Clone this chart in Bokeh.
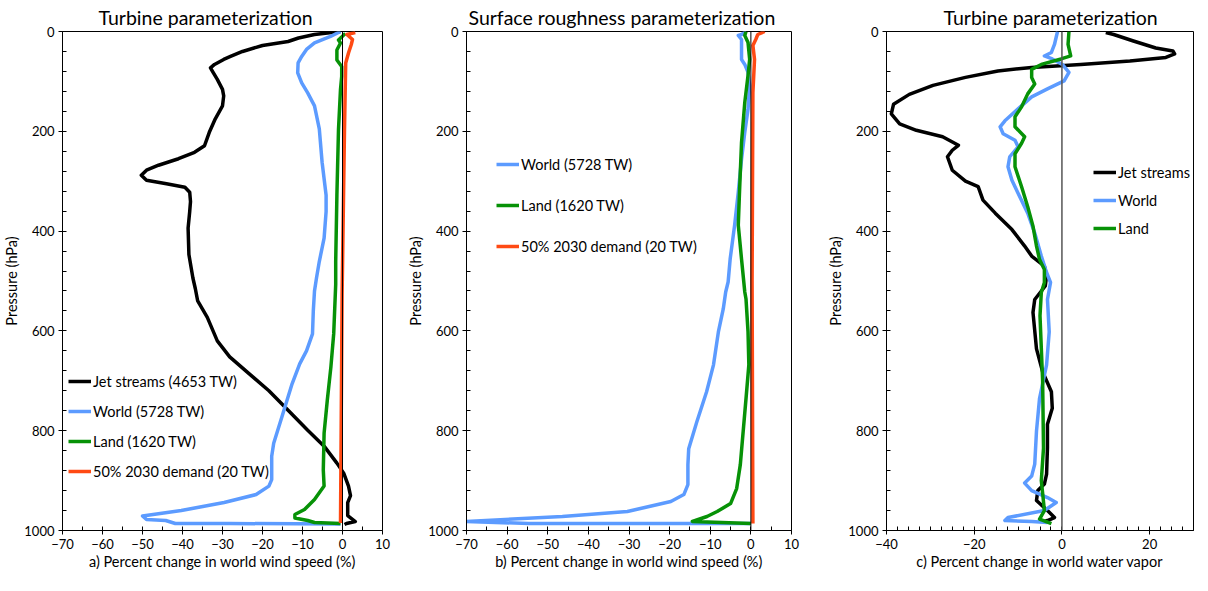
from bokeh.plotting import figure
from bokeh.layouts import row
from bokeh.models import Range1d, SingleIntervalTicker, Span, Legend, LegendItem
from bokeh.embed import file_html
from bokeh.resources import INLINE

FONT = "Lato"
BLACK = "#000000"
BLUE = "#5C9BFF"
GREEN = "#079207"
RED = "#FF4A14"

# ---------------- Panel a: turbine parameterization, wind speed ----------------
A_JET_P = [0, 6, 13, 20, 28, 40, 50, 56, 66, 73, 80, 96, 116, 129, 149, 175, 202, 229, 242, 255, 268, 278,
           288, 298, 305, 312, 322, 341, 361, 394, 447, 494, 515, 540, 573, 620, 652, 686, 720, 759, 799, 831,
           865, 885, 911, 930, 944, 970, 982, 986, 988]
A_JET_V = [-0.5, -7, -11, -13.6, -20, -25, -28, -29.7, -32, -33, -32.5, -31.3, -30, -29.7, -30, -31.8, -33.3,
           -34.5, -37, -41, -46, -49, -50.3, -49, -44, -39.4, -38.2, -38, -38.2, -38.6, -38.4, -37.4, -36.8,
           -36.2, -33.8, -31.3, -28.2, -23.3, -18.4, -13.6, -8.7, -4.6, -1.4, 0.3, 1.5, 2, 1.3, 1.3, 3.2, 1, 0.5]
A_WORLD_P = [0, 10, 23, 36, 50, 63, 83, 103, 123, 149, 195, 262, 328, 361, 414, 461, 494, 520, 560, 606, 640,
             666, 706, 771, 825, 851, 898, 911, 928, 944, 960, 971, 978, 980, 986, 986, 987]
A_WORLD_V = [-0.5, -3, -7, -9, -10.2, -11.1, -11.2, -10.2, -8.7, -7, -5.8, -5.1, -4.1, -4.1, -4.6, -5.8, -6.5,
             -7, -7.3, -7.5, -9, -10.7, -12.6, -15.1, -17.2, -17.7, -17.7, -18.4, -21.6, -29.6, -40.3, -50, -49,
             -44.2, -41.8, -28.2, -0.5]
A_LAND_P = [4, 17, 23, 37, 57, 70, 90, 116, 196, 328, 461, 507, 606, 672, 739, 805, 879, 911, 938, 958, 968,
            975, 980, 984, 986]
A_LAND_V = [0.7, -1, -0.5, -1.4, -1.4, -0.2, -0.2, -0.5, -1, -1.4, -1.7, -1.7, -2.2, -2.9, -3.8, -4.6, -4.8,
            -4.6, -7, -9.5, -11.9, -11.9, -8.7, -7, -0.5]
A_DEM_P = [2, 6, 16, 26, 43, 63, 196, 527, 985]
A_DEM_V = [3.2, 1.1, 2.5, 2.2, 1.5, 0.8, 0.5, -0.1, -0.5]

# ---------------- Panel b: surface roughness parameterization ----------------
B_WORLD_P = [0, 6, 8, 16, 56, 66, 82, 108, 156, 202, 256, 322, 388, 456, 502, 522, 556, 602, 668, 722, 782,
             836, 868, 908, 928, 942, 962, 972, 982, 986, 986, 986]
B_WORLD_V = [-1.2, -2.3, -3.1, -2.3, -2.3, -1.5, -0.7, -0.3, -0.7, -1.5, -2.3, -3.1, -4, -5.1, -5.6, -6.2,
             -6.8, -8, -9.2, -10.9, -13.3, -15.3, -15.5, -15.5, -16.5, -19.7, -30.4, -46.4, -70, -54.7, -14.8, 0]
B_LAND_P = [0, 8, 22, 56, 88, 142, 222, 322, 388, 456, 522, 536, 602, 668, 736, 802, 868, 916, 946, 962,
            972, 982, 986]
B_LAND_V = [-1.2, -1.5, -0.7, -0.3, -0.7, -1.5, -2.3, -2.8, -3.1, -2.3, -1.5, -1.2, -0.7, -0.5, -1.2, -1.9,
            -2.6, -3.5, -5, -8.3, -10.8, -14.4, 0]
B_DEM_P = [0, 6, 16, 28, 56, 122, 500, 986]
B_DEM_V = [3.4, 1.7, 1.2, 0.5, 0.9, 0.5, 0.3, 0.5]

# ---------------- Panel c: turbine parameterization, water vapor ----------------
C_JET_P = [2, 6, 19, 33, 39, 45, 52, 59, 66, 72, 79, 92, 108, 126, 146, 165, 185, 198, 211, 228, 238, 251,
           278, 300, 311, 338, 364, 397, 430, 450, 470, 490, 510, 537, 563, 636, 682, 722, 755, 787, 834, 887,
           907, 920, 940, 960, 974, 980, 982]
C_JET_V = [10, 11.8, 16.3, 21.4, 25.3, 25.7, 23.7, 15.5, 4.3, -6.9, -14.6, -22, -29.4, -34.8, -38.4, -38.9,
           -37, -33.2, -27.2, -23.6, -25, -26.1, -25, -22, -19.1, -18, -15.2, -11.4, -8.5, -6.9, -4, -3.5, -3.8,
           -6.2, -6.6, -5.8, -4.4, -2.4, -2.2, -3.3, -3.3, -3.5, -4, -5.5, -5.8, -3.3, -1.7, -3.3, -4]
C_WORLD_P = [0, 26, 42, 49, 55, 66, 82, 99, 115, 131, 155, 179, 191, 205, 218, 231, 251, 271, 298, 324, 364,
             404, 450, 483, 503, 537, 602, 668, 735, 801, 867, 891, 905, 920, 934, 944, 960, 974, 980, 982, 984]
C_WORLD_V = [-1, -1.7, -2.4, -4, -2.2, 0.1, 1.6, 0.5, -3.3, -6.9, -10, -13, -14.1, -13.4, -10.7, -10, -11.9,
             -12.3, -11.4, -10, -7.8, -6.2, -4.7, -3.5, -2.6, -3.3, -2.9, -3.5, -5.1, -5.8, -6.2, -6.9, -8.5,
             -6.9, -3.3, -1.3, -4, -12.3, -13, -6.9, -3.3]
C_LAND_P = [0, 26, 49, 55, 66, 76, 92, 105, 125, 151, 171, 191, 211, 224, 245, 271, 311, 351, 390, 430, 457,
            477, 503, 523, 570, 700, 835, 900, 925, 960, 977, 986]
C_LAND_V = [1.6, 1.4, 2, -0.2, -4.7, -6.9, -6.9, -6.2, -7.8, -9.2, -10.7, -10.7, -8.5, -9.2, -10.7, -10.7,
            -9.2, -7.8, -6.6, -5.8, -5.1, -4, -4, -4.7, -5, -4.4, -4.2, -4.7, -4.4, -4, -5.1, -2.4]

TITLES = ["Turbine parameterization", "Surface roughness parameterization", "Turbine parameterization"]
XLABELS = ["a) Percent change in world wind speed (%)", "b) Percent change in world wind speed (%)",
           "c) Percent change in world water vapor"]
YLABEL = "Pressure (hPa)"
LABELS_A = ["Jet streams (4653 TW)", "World (5728 TW)", "Land (1620 TW)", "50% 2030 demand (20 TW)"]
LABELS_B = ["World (5728 TW)", "Land (1620 TW)", "50% 2030 demand (20 TW)"]
LABELS_C = ["Jet streams", "World", "Land"]


def make_panel(width, left, right, top, bottom, xr, xint, xminor, title, title_offset, xlabel, zero_color,
               zero_width):
    p = figure(width=width, height=top + 503 + bottom, output_backend="svg", toolbar_location=None,
               x_range=Range1d(*xr), y_range=Range1d(1000, 0),
               min_border_left=left, min_border_right=right, min_border_top=top, min_border_bottom=bottom)
    p.title.text = title
    p.title.text_font = FONT
    p.title.text_font_size = "19.5px"
    p.title.text_font_style = "normal"
    p.title.text_color = "black"
    p.title.align = "left"
    p.title.offset = title_offset
    p.title.standoff = 5
    p.xgrid.visible = False
    p.ygrid.visible = False
    p.outline_line_color = "black"
    p.outline_line_width = 1
    p.background_fill_color = "white"
    p.border_fill_color = "white"
    p.xaxis.ticker = SingleIntervalTicker(interval=xint, num_minor_ticks=xminor)
    p.yaxis.ticker = SingleIntervalTicker(interval=200, num_minor_ticks=5)
    for ax in (p.xaxis[0], p.yaxis[0]):
        ax.axis_line_color = "black"
        ax.major_tick_line_color = "black"
        ax.minor_tick_line_color = "black"
        ax.major_tick_in = 0
        ax.major_tick_out = 4
        ax.minor_tick_in = 4
        ax.minor_tick_out = 0
        ax.major_label_text_font = FONT
        ax.major_label_text_font_size = "13px"
        ax.major_label_text_color = "black"
        ax.major_label_standoff = 4
        ax.axis_label_text_font = FONT
        ax.axis_label_text_font_size = "14.5px"
        ax.axis_label_text_font_style = "normal"
        ax.axis_label_text_color = "black"
        ax.axis_label_standoff = 1
    p.xaxis.axis_label = xlabel
    p.yaxis.axis_label = YLABEL
    p.add_layout(Span(location=0, dimension="height", line_color=zero_color, line_width=zero_width))
    return p


def add_legend(p, renderers, labels, loc, spacing):
    leg = Legend(items=[LegendItem(label=l, renderers=[r]) for l, r in zip(labels, renderers)],
                 location=loc, glyph_width=23, glyph_height=20, label_height=20, spacing=spacing,
                 padding=0, margin=0, label_standoff=2, border_line_alpha=0, background_fill_alpha=0,
                 label_text_font=FONT, label_text_font_size="14.5px", label_text_color="black")
    p.add_layout(leg)


LW = 3.5

pa = make_panel(404, 53, 22, 27, 45, (-70, 10), 10, 2, TITLES[0], 36, XLABELS[0], "black", 1)
ra = [pa.line(A_JET_V, A_JET_P, line_color=BLACK, line_width=LW, line_join="round"),
      pa.line(A_WORLD_V, A_WORLD_P, line_color=BLUE, line_width=LW, line_join="round"),
      pa.line(A_LAND_V, A_LAND_P, line_color=GREEN, line_width=LW, line_join="round"),
      pa.line(A_DEM_V, A_DEM_P, line_color=RED, line_width=LW, line_join="round")]
add_legend(pa, ra, LABELS_A, (6, 49), 10)

pb = make_panel(420, 58, 33, 31, 41, (-70, 10), 10, 2, TITLES[1], 2, XLABELS[1], "black", 1)
rb = [pb.line(B_WORLD_V, B_WORLD_P, line_color=BLUE, line_width=LW, line_join="round"),
      pb.line(B_LAND_V, B_LAND_P, line_color=GREEN, line_width=LW, line_join="round"),
      pb.line(B_DEM_V, B_DEM_P, line_color=RED, line_width=LW, line_join="round")]
add_legend(pb, rb, LABELS_B, (30, 274), 21)

pc = make_panel(374, 58, 5, 29, 43, (-40, 30), 20, 8, TITLES[2], 57, XLABELS[2], "#555555", 1.5)
rc = [pc.line(C_JET_V, C_JET_P, line_color=BLACK, line_width=LW, line_join="round"),
      pc.line(C_WORLD_V, C_WORLD_P, line_color=BLUE, line_width=LW, line_join="round"),
      pc.line(C_LAND_V, C_LAND_P, line_color=GREEN, line_width=LW, line_join="round")]
add_legend(pc, rc, LABELS_C, (207, 292), 8)

layout = row(pa, pb, pc)
open("out.html", "w").write(file_html(layout, INLINE))
